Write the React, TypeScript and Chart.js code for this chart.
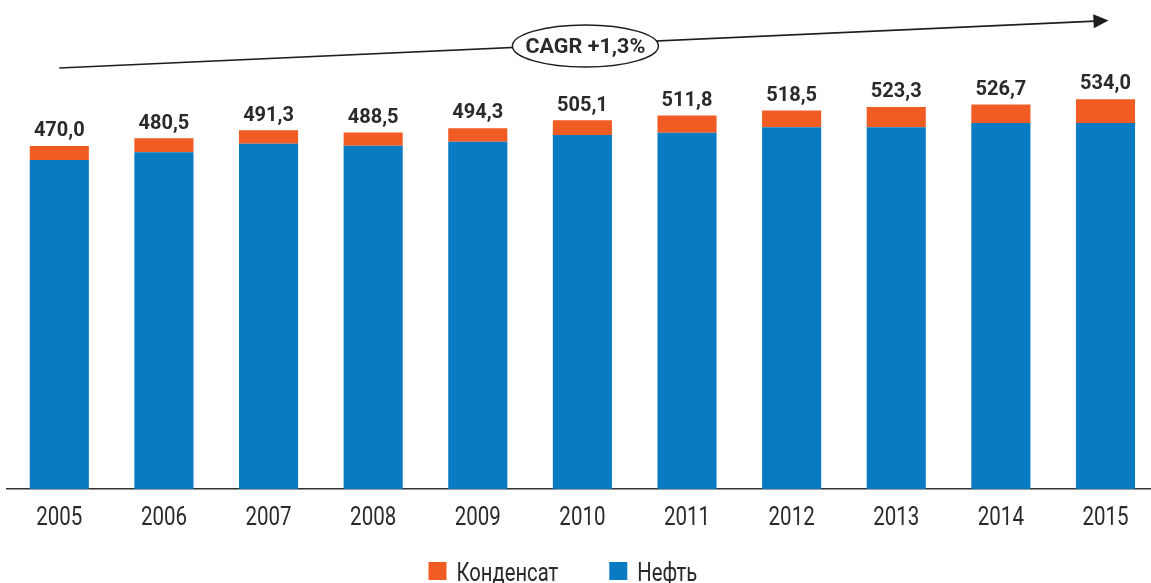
import React, { useEffect, useRef } from "react";
import { Chart, registerables } from "chart.js";

Chart.register(...registerables);

const years = ["2005", "2006", "2007", "2008", "2009", "2010", "2011", "2012", "2013", "2014", "2015"];
const oil = [450.7, 461.2, 473.0, 470.3, 475.8, 484.9, 488.1, 495.5, 495.5, 501.4, 501.4];
const condensate = [19.3, 19.3, 18.3, 18.2, 18.5, 20.2, 23.7, 23.0, 27.8, 25.3, 32.6];
const totalLabels = ["470,0", "480,5", "491,3", "488,5", "494,3", "505,1", "511,8", "518,5", "523,3", "526,7", "534,0"];
const cagrText = "CAGR +1,3%";

const BLUE = "#087bc3";
const ORANGE = "#f15c25";
const TEXT = "#2a2a2a";
const FONT = "Roboto, 'Noto Sans', sans-serif";

// draw horizontally scaled text (the original uses a DIN-like face)
function condText(ctx: any, text: string, x: number, y: number, sx: number, align: string) {
  ctx.save();
  ctx.translate(x, y);
  ctx.scale(sx, 1);
  ctx.textAlign = align;
  ctx.fillText(text, 0, 0);
  ctx.restore();
}

const decorPlugin = {
  id: "decor",
  afterDatasetsDraw(chart: any) {
    const ctx = chart.ctx;
    const xs = chart.scales.x;
    const area = chart.chartArea;

    // x category labels
    ctx.save();
    ctx.font = `25px ${FONT}`;
    ctx.fillStyle = TEXT;
    ctx.textBaseline = "alphabetic";
    years.forEach((_, i) => {
      condText(ctx, xs.getLabelForValue(i), xs.getPixelForTick(i), area.bottom + 36, 0.82, "center");
    });
    ctx.restore();

    // total labels above bars
    const meta = chart.getDatasetMeta(1);
    ctx.save();
    ctx.font = `bold 20px ${FONT}`;
    ctx.fillStyle = TEXT;
    ctx.textBaseline = "alphabetic";
    meta.data.forEach((bar: any, i: number) => {
      condText(ctx, totalLabels[i], bar.x, bar.y - 9.7, 1.0, "center");
    });
    ctx.restore();

    // CAGR arrow
    const x0 = xs.getPixelForValue(0);
    const x1 = xs.getPixelForValue(years.length - 1) + 3;
    const y0 = 68;
    const y1 = 20.5;
    const ang = Math.atan2(y1 - y0, x1 - x0);
    const L = 15, W = 7;
    ctx.save();
    ctx.strokeStyle = "#1e1e1e";
    ctx.fillStyle = "#1e1e1e";
    ctx.lineWidth = 1.6;
    ctx.beginPath();
    ctx.moveTo(x0, y0);
    ctx.lineTo(x1 - (L - 2) * Math.cos(ang), y1 - (L - 2) * Math.sin(ang));
    ctx.stroke();
    ctx.beginPath();
    ctx.moveTo(x1, y1);
    ctx.lineTo(x1 - L * Math.cos(ang) + W * Math.sin(ang), y1 - L * Math.sin(ang) - W * Math.cos(ang));
    ctx.lineTo(x1 - L * Math.cos(ang) - W * Math.sin(ang), y1 - L * Math.sin(ang) + W * Math.cos(ang));
    ctx.closePath();
    ctx.fill();
    // ellipse with CAGR text
    const cx = xs.getPixelForValue(5) + 3;
    const cy = 46;
    ctx.beginPath();
    ctx.ellipse(cx, cy, 73, 21, 0, 0, Math.PI * 2);
    ctx.fillStyle = "#fff";
    ctx.fill();
    ctx.lineWidth = 1.5;
    ctx.stroke();
    ctx.fillStyle = TEXT;
    ctx.font = `bold 20.5px ${FONT}`;
    ctx.textBaseline = "alphabetic";
    condText(ctx, cagrText, cx, cy + 7, 1.05, "center");
    ctx.restore();

    // legend (Конденсат, Нефть)
    const items = [chart.data.datasets[1], chart.data.datasets[0]];
    ctx.save();
    ctx.font = `25px ${FONT}`;
    ctx.textBaseline = "alphabetic";
    let lx = 428.5;
    const ly = 571;
    const sx = 0.81;
    items.forEach((ds: any) => {
      ctx.fillStyle = ds.backgroundColor;
      ctx.fillRect(lx, ly - 9, 18, 18);
      ctx.fillStyle = TEXT;
      condText(ctx, ds.label, lx + 28, ly + 10, sx, "left");
      lx += 28 + ctx.measureText(ds.label).width * sx + 51;
    });
    ctx.restore();
  },
};

export default function App() {
  const ref = useRef<HTMLCanvasElement | null>(null);
  useEffect(() => {
    if (!ref.current) return;
    const chart = new Chart(ref.current, {
      type: "bar",
      data: {
        labels: years,
        datasets: [
          { label: "Нефть", data: oil, backgroundColor: BLUE, stack: "s" },
          { label: "Конденсат", data: condensate, backgroundColor: ORANGE, stack: "s" },
        ],
      },
      options: {
        responsive: false,
        animation: false,
        devicePixelRatio: 1,
        layout: { padding: { left: 7, right: 2.2, top: 51, bottom: 94 } },
        datasets: { bar: { categoryPercentage: 1, barPercentage: 0.565 } },
        plugins: { legend: { display: false }, tooltip: { enabled: false } },
        scales: {
          x: {
            stacked: true,
            grid: { display: false, drawTicks: false, tickLength: 0 },
            border: { display: true, color: "#333", width: 1.5 },
            ticks: { display: false },
          },
          y: { stacked: true, display: false, min: 0, max: 600 },
        },
      },
      plugins: [decorPlugin],
    });
    return () => chart.destroy();
  }, []);
  return (
    <div style={{ position: "fixed", left: 0, top: 0, width: 1151, height: 583, overflow: "hidden", background: "#fff" }}>
      <canvas ref={ref} width={1160} height={583} style={{ width: 1160, height: 583, display: "block" }} />
    </div>
  );
}
